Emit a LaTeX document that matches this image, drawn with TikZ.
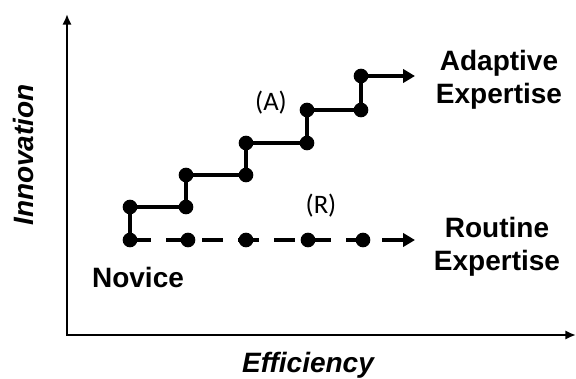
\documentclass[tikz,border=0pt]{standalone}
\usepackage{fontspec}
\setmainfont{Liberation Sans}
\newfontfamily\calfont{Carlito}
\usetikzlibrary{arrows.meta, positioning}

\begin{document}
\begin{tikzpicture}[
    x=0.75pt, y=-0.75pt,
    dot/.style={circle, fill=black, inner sep=0pt, minimum size=11pt},
    axisline/.style={draw, line width=2pt, {Latex[length=8pt, width=7pt]}-{Latex[length=8pt, width=7pt]}},
    stair/.style={draw, line width=3.4pt, line join=miter, -{Triangle[length=9pt, width=10pt]}},
    routine/.style={draw, line width=3.4pt, dash pattern={on 16pt off 11pt}, -{Triangle[length=9pt, width=10pt]}},
    term/.style={font=\fontsize{21}{24.75}\selectfont\bfseries, align=center, inner sep=0pt},
    tag/.style={font=\calfont\fontsize{20}{23}\selectfont, inner sep=0pt, anchor=base}
]
\useasboundingbox (0,0) rectangle (576,379);

% axes
\coordinate (ytop) at (67,14);
\coordinate (origin) at (67,335);
\coordinate (xend) at (576,335);
\draw[axisline] (ytop) -- (origin) -- (xend);

\node[term, rotate=90, font=\fontsize{21}{24.75}\selectfont\bfseries\itshape] (ylabel) at (23,155) {Innovation};
\node[term, anchor=base, font=\fontsize{21}{24.75}\selectfont\bfseries\itshape] (xlabel) at (308,372) {Efficiency};

% routine path
\node[dot] (r0) at (130,240) {};
\node[dot] (r1) at (188,240) {};
\node[dot] (r2) at (246,240) {};
\node[dot] (r3) at (308,240) {};
\node[dot] (r4) at (363,240) {};
\coordinate (rend) at (415,240);

% adaptive path
\node[dot] (a0) at (130,207) {};
\node[dot] (a1) at (186,207) {};
\node[dot] (a2) at (186,175) {};
\node[dot] (a3) at (246,175) {};
\node[dot] (a4) at (246,143) {};
\node[dot] (a5) at (307,143) {};
\node[dot] (a6) at (307,110) {};
\node[dot] (a7) at (361,110) {};
\node[dot] (a8) at (361,76) {};
\coordinate (aend) at (415,76);

\draw[routine] (r0.center) -- (rend);
\draw[stair] (r0.center) -- (a0.center) -- (a1.center) -- (a2.center) -- (a3.center)
    -- (a4.center) -- (a5.center) -- (a6.center) -- (a7.center) -- (a8.center) -- (aend);

% labels
\node[term, anchor=base] (novice) at (138,287) {Novice};
\node[term] (adaptive) at (499,80) {Adaptive\\Expertise};
\node[term] (routinelbl) at (497,247) {Routine\\Expertise};
\node[tag] (tagA) at (271,110) {(A)};
\node[tag] (tagR) at (321,213) {(R)};

\end{tikzpicture}
\end{document}
